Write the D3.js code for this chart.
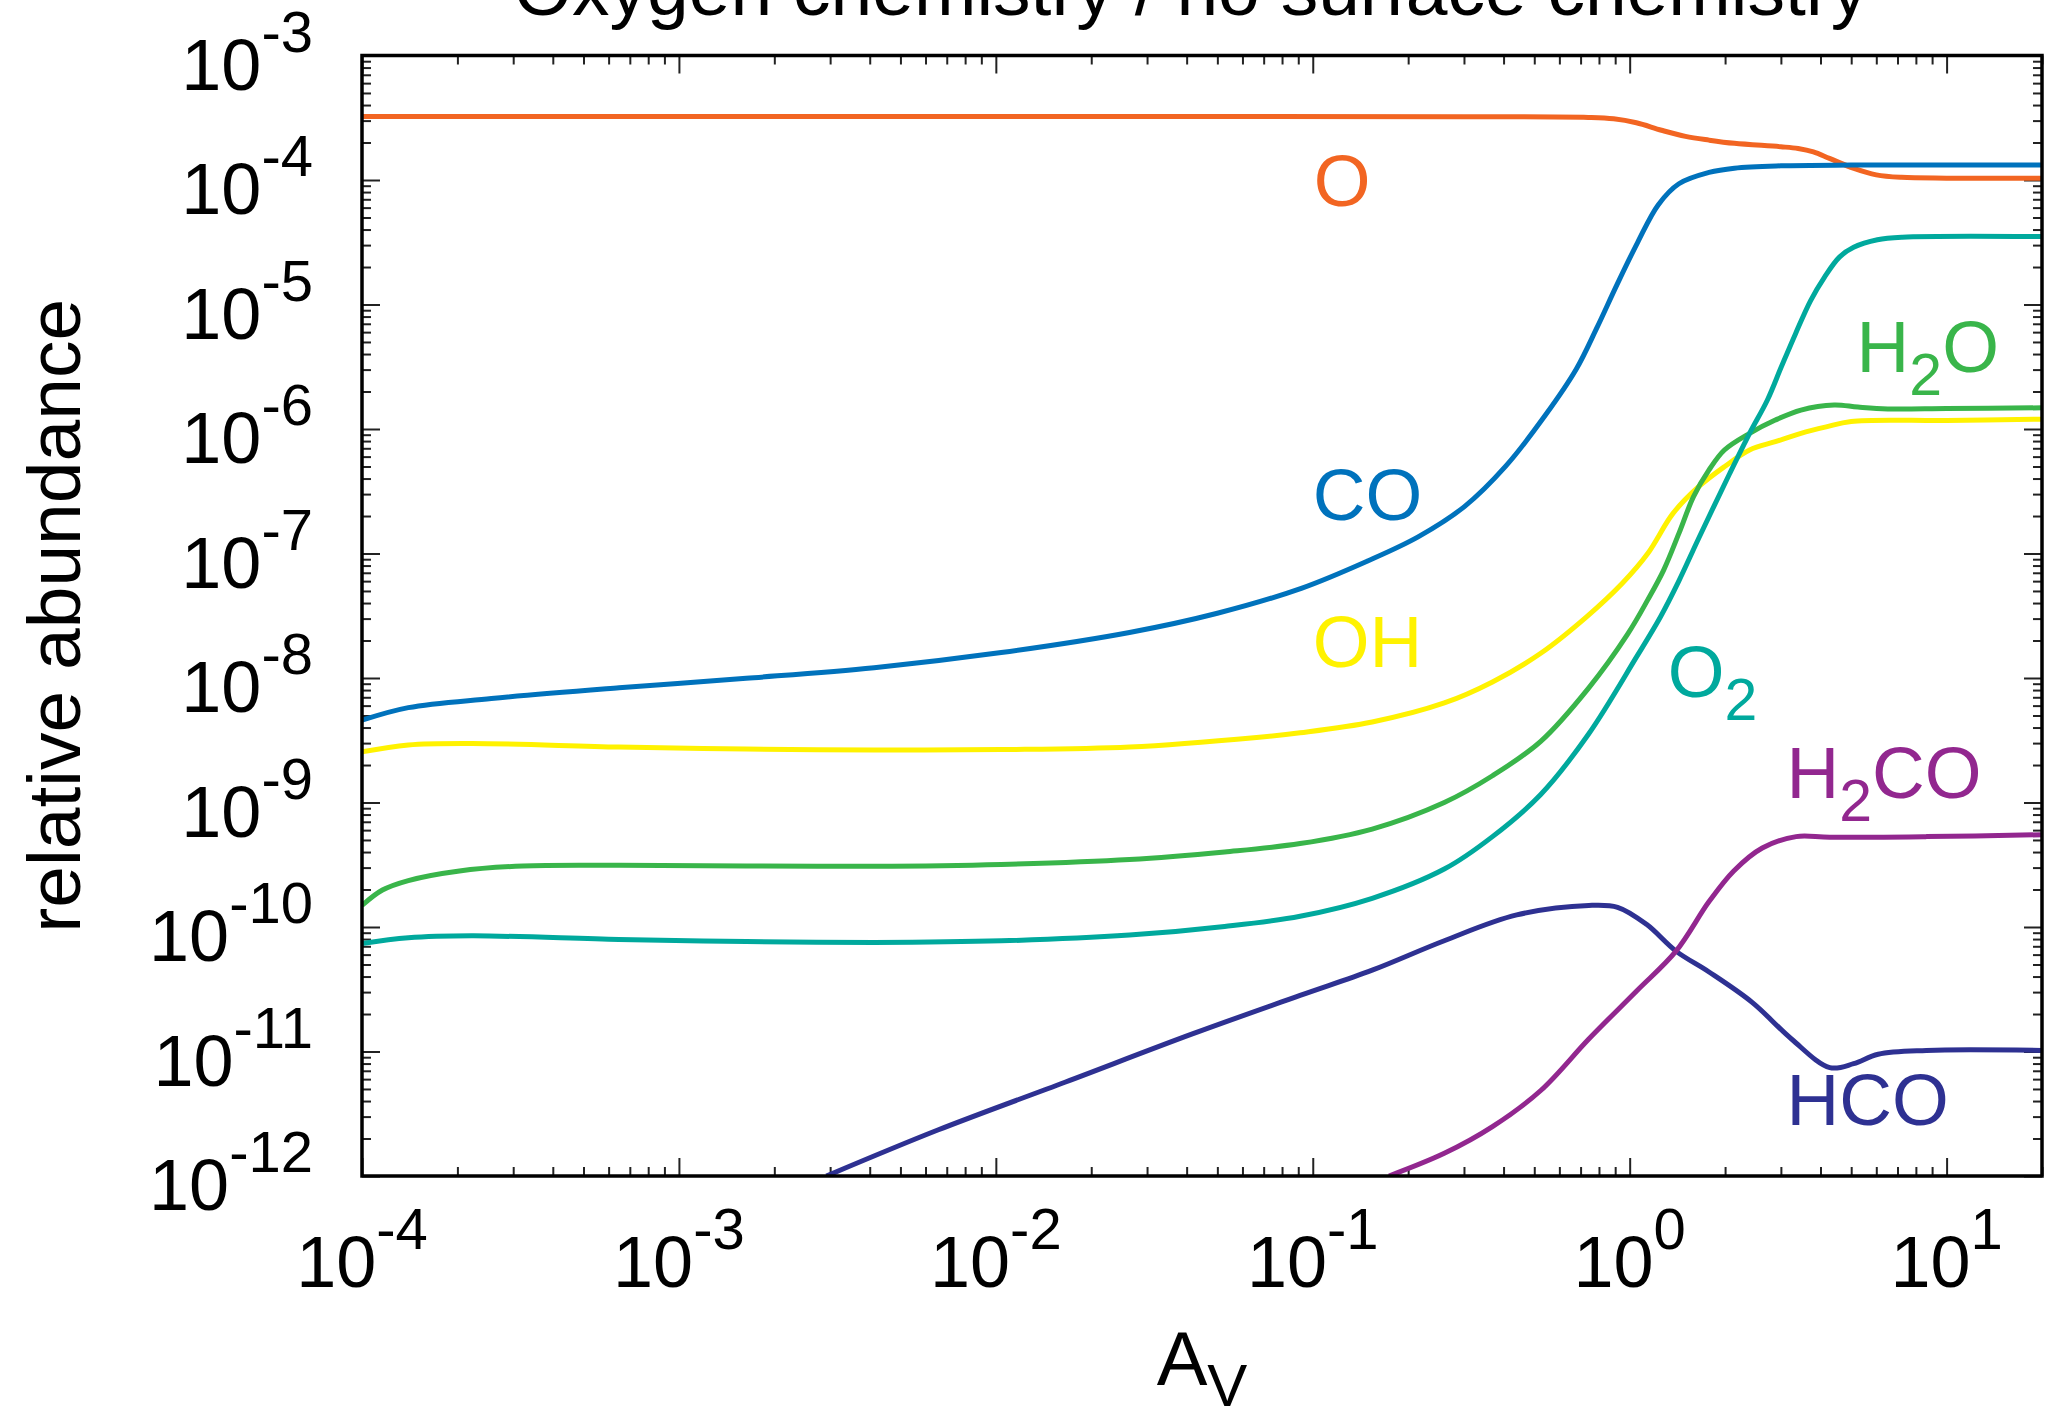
<!DOCTYPE html>
<html>
<head>
<meta charset="utf-8">
<script src="https://cdn.jsdelivr.net/npm/d3@7"></script>
<style>
  html, body { margin: 0; padding: 0; background: #ffffff; }
  svg { display: block; }
  text { font-family: "Liberation Sans", Arial, Helvetica, sans-serif; }
</style>
</head>
<body>
<svg id="chart" width="2056" height="1406"></svg>
<script>
// ---------------- DATA ----------------
const chartTitle = "Oxygen chemistry / no surface chemistry";
const yAxisTitle = "relative abundance";
const xAxisTitleMain = "A";
const xAxisTitleSub = "V";

const xTickValues = [1e-4, 1e-3, 1e-2, 1e-1, 1, 10];
const xTickExponents = ["-4", "-3", "-2", "-1", "0", "1"];
const yTickValues = [1e-3, 1e-4, 1e-5, 1e-6, 1e-7, 1e-8, 1e-9, 1e-10, 1e-11, 1e-12];
const yTickExponents = ["-3", "-4", "-5", "-6", "-7", "-8", "-9", "-10", "-11", "-12"];

const speciesNames = ["O", "CO", "OH", "H2O", "O2", "HCO", "H2CO"];

// [A_V, relative abundance]
const dataO = [
  [1e-4, 3.24e-4], [1e-2, 3.24e-4], [0.3, 3.22e-4], [0.74, 3.18e-4], [0.89, 3.10e-4],
  [1.05, 2.88e-4], [1.26, 2.51e-4], [1.5, 2.24e-4], [1.78, 2.09e-4], [2.14, 1.97e-4],
  [3.0, 1.85e-4], [3.4, 1.79e-4], [3.8, 1.68e-4], [4.27, 1.49e-4], [5.1, 1.24e-4], [6.0, 1.10e-4],
  [7.2, 1.05e-4], [10, 1.035e-4], [20, 1.035e-4]
];
const dataCO = [
  [1e-4, 4.58e-9], [1.4e-4, 5.78e-9], [2.56e-4, 6.84e-9], [6.47e-4, 8.34e-9], [1.63e-3, 9.95e-9],
  [4.13e-3, 1.21e-8], [1.04e-2, 1.60e-8], [2.64e-2, 2.32e-8], [5.0e-2, 3.31e-8], [9.2e-2, 5.25e-8],
  [0.149, 8.71e-8], [0.215, 1.36e-7], [0.301, 2.38e-7], [0.405, 4.98e-7], [0.543, 1.30e-6],
  [0.678, 3.02e-6], [0.787, 6.46e-6], [0.912, 1.445e-5], [1.06, 3.16e-5], [1.23, 6.31e-5],
  [1.43, 9.33e-5], [1.78, 1.15e-4], [2.14, 1.245e-4], [3.0, 1.30e-4], [5.0, 1.318e-4], [20, 1.318e-4]
];
const dataOH = [
  [1e-4, 2.55e-9], [1.4e-4, 2.90e-9], [2.22e-4, 2.98e-9], [6.47e-4, 2.79e-9], [1.63e-3, 2.69e-9],
  [4.12e-3, 2.64e-9], [1.04e-2, 2.66e-9], [2.64e-2, 2.79e-9], [6.65e-2, 3.33e-9], [9.12e-2, 3.63e-9],
  [0.154, 4.43e-9], [0.26, 6.30e-9], [0.369, 9.29e-9], [0.524, 1.58e-8], [0.731, 3.10e-8],
  [0.948, 5.77e-8], [1.14, 1.00e-7], [1.37, 2.10e-7], [1.65, 3.44e-7], [1.99, 4.98e-7],
  [2.39, 6.78e-7], [2.88, 7.91e-7], [3.47, 9.23e-7], [4.17, 1.04e-6], [5.0, 1.15e-6],
  [10, 1.17e-6], [20, 1.20e-6]
];
const dataH2O = [
  [1e-4, 1.49e-10], [1.16e-4, 1.98e-10], [1.4e-4, 2.36e-10], [2.03e-4, 2.82e-10], [3.22e-4, 3.09e-10],
  [6.47e-4, 3.13e-10], [1.63e-3, 3.09e-10], [4.12e-3, 3.07e-10], [1.04e-2, 3.18e-10], [2.64e-2, 3.48e-10],
  [5.27e-2, 4.01e-10], [9.12e-2, 4.68e-10], [0.154, 6.12e-10], [0.26, 1.0e-9], [0.369, 1.64e-9],
  [0.524, 3.10e-9], [0.743, 8.34e-9], [0.984, 2.24e-8], [1.14, 4.24e-8], [1.28, 7.36e-8],
  [1.43, 1.45e-7], [1.59, 2.86e-7], [1.78, 4.69e-7], [1.99, 6.78e-7], [2.39, 9.23e-7],
  [2.88, 1.18e-6], [3.47, 1.42e-6], [4.42, 1.56e-6], [5.25, 1.50e-6], [6.52, 1.45e-6],
  [10, 1.46e-6], [20, 1.48e-6]
];
const dataO2 = [
  [1e-4, 7.36e-11], [1.4e-4, 8.18e-11], [2.22e-4, 8.49e-11], [6.47e-4, 7.94e-11], [1.63e-3, 7.64e-11],
  [4.12e-3, 7.52e-11], [1.04e-2, 7.74e-11], [2.64e-2, 8.61e-11], [5.27e-2, 1.01e-10], [9.12e-2, 1.22e-10],
  [0.154, 1.70e-10], [0.26, 2.92e-10], [0.369, 5.32e-10], [0.524, 1.16e-9], [0.743, 3.57e-9],
  [1.05, 1.47e-8], [1.25, 3.09e-8], [1.43, 6.03e-8], [1.65, 1.32e-7], [2.07, 4.41e-7],
  [2.39, 9.23e-7], [2.72, 1.71e-6], [3.01, 3.16e-6], [3.34, 5.86e-6], [3.72, 1.07e-5],
  [4.12, 1.66e-5], [4.59, 2.40e-5], [5.09, 2.88e-5], [6.05, 3.31e-5], [7.24, 3.47e-5], [20, 3.51e-5]
];
const dataHCO = [
  [2.92e-3, 1.0e-12], [6.56e-3, 2.34e-12], [1.66e-2, 5.69e-12], [4.19e-2, 1.39e-11], [9.12e-2, 2.82e-11],
  [0.154, 4.50e-11], [0.26, 7.76e-11], [0.44, 1.25e-10], [0.743, 1.49e-10], [0.916, 1.44e-10],
  [1.13, 1.05e-10], [1.40, 6.40e-11], [1.78, 4.35e-11], [2.44, 2.47e-11], [3.24, 1.26e-11],
  [4.28, 7.43e-12], [5.09, 7.98e-12], [6.08, 9.51e-12], [8.63, 1.02e-11], [20, 1.02e-11]
];
const dataH2CO = [
  [0.174, 1.0e-12], [0.26, 1.52e-12], [0.369, 2.49e-12], [0.524, 4.86e-12], [0.743, 1.26e-11],
  [1.05, 3.05e-11], [1.40, 6.40e-11], [1.78, 1.60e-10], [2.13, 2.82e-10], [2.62, 4.31e-10],
  [3.35, 5.32e-10], [4.28, 5.25e-10], [8.63, 5.32e-10], [20, 5.51e-10]
];

// ---------------- DRAWING ----------------
const colors = {
  O: "#F26522", CO: "#0072BC", OH: "#FFF200", H2O: "#39B54A",
  O2: "#00A99D", HCO: "#2E3192", H2CO: "#92278F"
};
const seriesData = { O: dataO, CO: dataCO, OH: dataOH, H2O: dataH2O, O2: dataO2, HCO: dataHCO, H2CO: dataH2CO };

const L = 362, R = 2042, T = 55.5, B = 1176;
const x = d3.scaleLog().domain([1e-4, 20]).range([L, R]);
const y = d3.scaleLog().domain([1e-12, 1e-3]).range([B, T]);

const svg = d3.select("#chart");

svg.append("defs").append("clipPath").attr("id", "plotclip")
  .append("rect").attr("x", L).attr("y", T).attr("width", R - L).attr("height", B - T);

// ticks
const allX = x.ticks();
const majorX = allX.filter(v => Math.abs(Math.log10(v) - Math.round(Math.log10(v))) < 1e-9);
const minorX = allX.filter(v => !majorX.includes(v));
const allY = y.ticks();
const majorY = allY.filter(v => Math.abs(Math.log10(v) - Math.round(Math.log10(v))) < 1e-9);
const minorY = allY.filter(v => !majorY.includes(v));

const MAJ = 18, MIN = 9;
function tickGroup(axisGen, tx, ty) {
  const g = svg.append("g").attr("transform", `translate(${tx},${ty})`).call(axisGen);
  g.select(".domain").remove();
  g.selectAll(".tick line").attr("stroke", "#222").attr("stroke-width", 2);
  g.selectAll(".tick text").remove();
  return g;
}
tickGroup(d3.axisBottom(x).tickValues(majorX).tickSize(-MAJ).tickFormat(""), 0, B);
tickGroup(d3.axisBottom(x).tickValues(minorX).tickSize(-MIN).tickFormat(""), 0, B);
tickGroup(d3.axisTop(x).tickValues(majorX).tickSize(-MAJ).tickFormat(""), 0, T);
tickGroup(d3.axisTop(x).tickValues(minorX).tickSize(-MIN).tickFormat(""), 0, T);
tickGroup(d3.axisLeft(y).tickValues(majorY).tickSize(-MAJ).tickFormat(""), L, 0);
tickGroup(d3.axisLeft(y).tickValues(minorY).tickSize(-MIN).tickFormat(""), L, 0);
tickGroup(d3.axisRight(y).tickValues(majorY).tickSize(-MAJ).tickFormat(""), R, 0);
tickGroup(d3.axisRight(y).tickValues(minorY).tickSize(-MIN).tickFormat(""), R, 0);

// curves
const line = d3.line()
  .x(d => x(d[0]))
  .y(d => y(d[1]))
  .curve(d3.curveCatmullRom.alpha(0.5));

const curves = svg.append("g").attr("clip-path", "url(#plotclip)");
speciesNames.forEach(name => {
  curves.append("path")
    .datum(seriesData[name])
    .attr("d", line)
    .attr("fill", "none")
    .attr("stroke", colors[name])
    .attr("stroke-width", 5)
    .attr("stroke-linejoin", "round");
});

// frame
svg.append("rect")
  .attr("x", L).attr("y", T).attr("width", R - L).attr("height", B - T)
  .attr("fill", "none").attr("stroke", "#000").attr("stroke-width", 3.5);

// tick labels
const BASE_FS = 72, SUP_FS = 58;
xTickValues.forEach((v, i) => {
  const t = svg.append("text")
    .attr("x", x(v)).attr("y", 1287)
    .attr("text-anchor", "middle")
    .attr("fill", "#000");
  t.append("tspan").attr("font-size", BASE_FS).text("10");
  t.append("tspan").attr("font-size", SUP_FS).attr("dy", -38).text(xTickExponents[i]);
});
yTickValues.forEach((v, i) => {
  const t = svg.append("text")
    .attr("x", 313).attr("y", y(v) + 34)
    .attr("text-anchor", "end")
    .attr("fill", "#000");
  t.append("tspan").attr("font-size", BASE_FS).text("10");
  t.append("tspan").attr("font-size", SUP_FS).attr("dy", -38).text(yTickExponents[i]);
});

// title (partly cut off at top, as in the original)
svg.append("text")
  .attr("x", 1191).attr("y", 15)
  .attr("text-anchor", "middle")
  .attr("font-size", 75)
  .attr("fill", "#000")
  .text(chartTitle);

// y axis title
svg.append("text")
  .attr("transform", `translate(80,${(T + B) / 2}) rotate(-90)`)
  .attr("text-anchor", "middle")
  .attr("font-size", 75)
  .attr("fill", "#000")
  .text(yAxisTitle);

// x axis title
const xt = svg.append("text")
  .attr("x", (L + R) / 2).attr("y", 1385)
  .attr("text-anchor", "middle")
  .attr("fill", "#000");
xt.append("tspan").attr("font-size", 76).text(xAxisTitleMain);
xt.append("tspan").attr("font-size", 60).attr("dy", 21).text(xAxisTitleSub);

// species labels (anchor in data coordinates: left edge / baseline)
const labelSpecs = [
  { name: "O",    parts: [["O", 0]],                       av: 0.1007, ab: 6.18e-5 },
  { name: "CO",   parts: [["CO", 0]],                      av: 0.1,    ab: 1.86e-7 },
  { name: "OH",   parts: [["OH", 0]],                      av: 0.1,    ab: 1.22e-8 },
  { name: "O2",   parts: [["O", 0], ["2", 1]],             av: 1.318,  ab: 7.03e-9 },
  { name: "H2O",  parts: [["H", 0], ["2", 1], ["O", 0]],   av: 5.2,    ab: 2.88e-6 },
  { name: "H2CO", parts: [["H", 0], ["2", 1], ["CO", 0]],  av: 3.126,  ab: 1.08e-9 },
  { name: "HCO",  parts: [["HCO", 0]],                     av: 3.126,  ab: 2.57e-12 }
];
const LAB_FS = 73, SUB_FS = 59, SUB_DY = 23;
labelSpecs.forEach(s => {
  const t = svg.append("text")
    .attr("x", x(s.av)).attr("y", y(s.ab))
    .attr("fill", colors[s.name]);
  let shifted = false;
  s.parts.forEach(([txt, sub]) => {
    const ts = t.append("tspan").text(txt);
    if (sub) {
      ts.attr("font-size", SUB_FS).attr("dy", SUB_DY);
      shifted = true;
    } else {
      ts.attr("font-size", LAB_FS);
      if (shifted) { ts.attr("dy", -SUB_DY); shifted = false; }
    }
  });
});
</script>
</body>
</html>
